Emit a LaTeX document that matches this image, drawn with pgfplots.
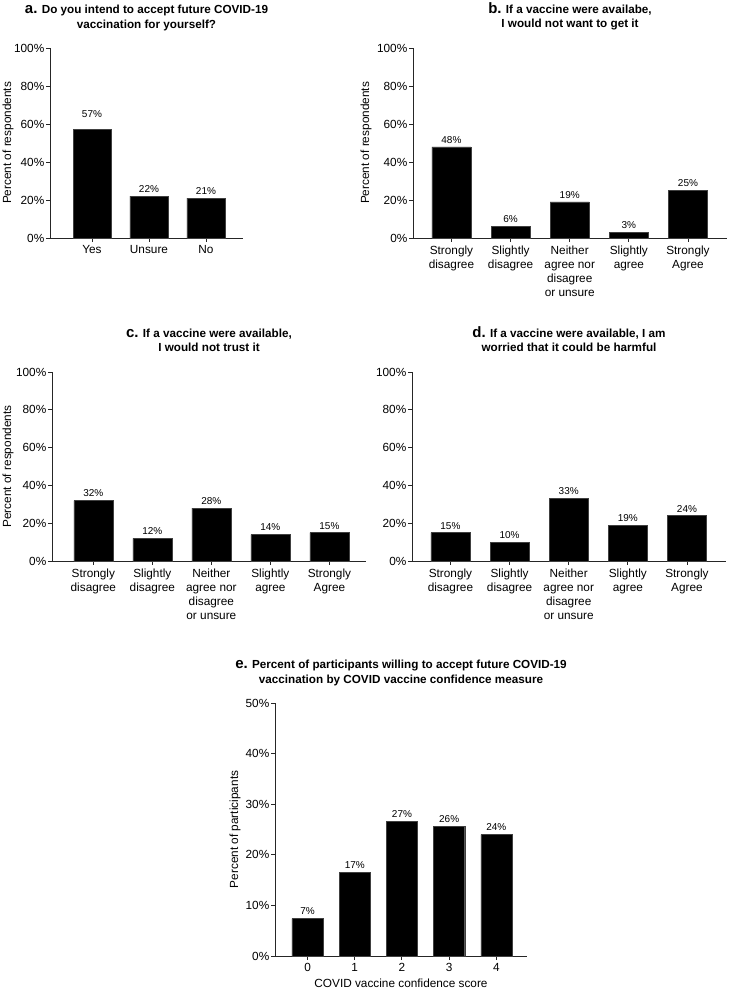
\documentclass[border=0pt]{standalone}
\usepackage{fontspec}
\setmainfont{Liberation Sans}
\usepackage{pgfplots}
\pgfplotsset{compat=1.18}

\pgfplotsset{
  panel/.style={
    scale only axis,
    ybar, bar width=0.66,
    axis x line*=bottom, axis y line*=left,
    axis line style={line width=0.9pt, black!85},
    every tick/.style={line width=0.9pt, black!85},
    tick align=outside, major tick length=4pt,
    xtick=data, ymin=0,
    tick label style={font=\fontsize{11.8}{14.3}\selectfont, black},
    xticklabel style={align=center},
    yticklabel style={inner sep=1.5pt},
    every axis y label/.style={rotate=90, anchor=center, font=\fontsize{11.8}{14}\selectfont},
    xlabel style={font=\fontsize{11.8}{14}\selectfont},
    nodes near coords={\pgfmathprintnumber[fixed,precision=0]{\pgfplotspointmeta}\%},
    every node near coord/.append style={font=\fontsize{10}{12}\selectfont, black},
    /pgf/number format/assume math mode=true,
    clip=false,
  },
  ylab/.style={ylabel style={at={([xshift=-#1]rel axis cs:0,0.5)}}},
  pct100/.style={ymax=100, ytick={0,20,40,60,80,100},
    yticklabels={0\%,20\%,40\%,60\%,80\%,100\%}, ylabel={Percent of respondents}},
  likert/.style={xtick={0,1,2,3,4},
    xticklabels={Strongly\\disagree, Slightly\\disagree, Neither\\agree nor\\disagree\\or unsure, Slightly\\agree, Strongly\\Agree}},
  mybar/.style={fill=black, draw=black!75, line width=0.4pt},
}
\newcommand{\ttl}[1]{\fontsize{11.7}{14}\selectfont\bfseries #1}
\newcommand{\lett}[1]{{\fontsize{15}{15}\selectfont\bfseries #1}}

\begin{document}
\begin{tikzpicture}
\useasboundingbox (0,0) rectangle (728pt,992pt);

% ---- a ----
\begin{axis}[panel, pct100, ylab=42pt, at={(50pt,754pt)}, anchor=south west,
  width=193pt, height=190pt, xmin=-0.737, xmax=2.65, bar width=0.67,
  xtick={0,1,2}, xticklabels={Yes, Unsure, No}]
\addplot[mybar, bar shift=0pt, every node near coord/.append style={yshift=9pt}] coordinates {(0,57)};
\addplot[mybar, bar shift=0pt] coordinates {(1,22) (2,21)};
\node[anchor=base, font=\ttl{}] at (rel axis cs:0.5,1) [yshift=34pt] {\lett{a.} Do you intend to accept future COVID-19};
\node[anchor=base, font=\ttl{}] at (rel axis cs:0.5,1) [yshift=19.5pt] {vaccination for yourself?};
\end{axis}

% ---- b ----
\begin{axis}[panel, pct100, likert, ylab=47pt, at={(413pt,754pt)}, anchor=south west,
  width=314pt, height=190pt, xmin=-0.65, xmax=4.66]
\addplot[mybar] coordinates {(0,48) (1,6) (2,19) (3,3) (4,25)};
\node[anchor=base, font=\ttl{}] at (rel axis cs:0.5,1) [yshift=34.5pt] {\lett{b.} If a vaccine were availabe,};
\node[anchor=base, font=\ttl{}] at (rel axis cs:0.5,1) [yshift=20pt] {I would not want to get it};
\end{axis}

% ---- c ----
\begin{axis}[panel, pct100, likert, ylab=44pt, at={(52pt,431pt)}, anchor=south west,
  width=314pt, height=189pt, xmin=-0.70, xmax=4.62]
\addplot[mybar] coordinates {(0,32) (1,12) (2,28) (3,14) (4,15)};
\node[anchor=base, font=\ttl{}] at (rel axis cs:0.5,1) [yshift=34pt] {\lett{c.} If a vaccine were available,};
\node[anchor=base, font=\ttl{}] at (rel axis cs:0.5,1) [yshift=20pt] {I would not trust it};
\end{axis}

% ---- d ----
\begin{axis}[panel, pct100, likert, at={(412pt,431pt)}, anchor=south west,
  width=314pt, height=189pt, xmin=-0.65, xmax=4.66, ylabel={}]
\addplot[mybar] coordinates {(0,15) (1,10) (2,33) (3,19) (4,24)};
\node[anchor=base, font=\ttl{}] at (rel axis cs:0.5,1) [yshift=34pt] {\lett{d.} If a vaccine were available, I am};
\node[anchor=base, font=\ttl{}] at (rel axis cs:0.5,1) [yshift=20pt] {worried that it could be harmful};
\end{axis}

% ---- e ----
\begin{axis}[panel, ylab=40pt, at={(275pt,36pt)}, anchor=south west,
  width=252pt, height=253pt, xmin=-0.69, xmax=4.65,
  ymax=50, ytick={0,10,20,30,40,50},
  yticklabels={0\%,10\%,20\%,30\%,40\%,50\%},
  xtick={0,1,2,3,4}, xticklabels={0,1,2,3,4},
  ylabel={Percent of participants},
  xlabel={COVID vaccine confidence score}]
\addplot[mybar] coordinates {(0,7.4) (1,16.6) (2,26.6) (3,25.6) (4,24.0)};
\node[anchor=base, font=\ttl{}] at (rel axis cs:0.5,1) [yshift=34pt] {\lett{e.} Percent of participants willing to accept future COVID-19};
\node[anchor=base, font=\ttl{}] at (rel axis cs:0.5,1) [yshift=19pt] {vaccination by COVID vaccine confidence measure};
\end{axis}
\end{tikzpicture}
\end{document}
